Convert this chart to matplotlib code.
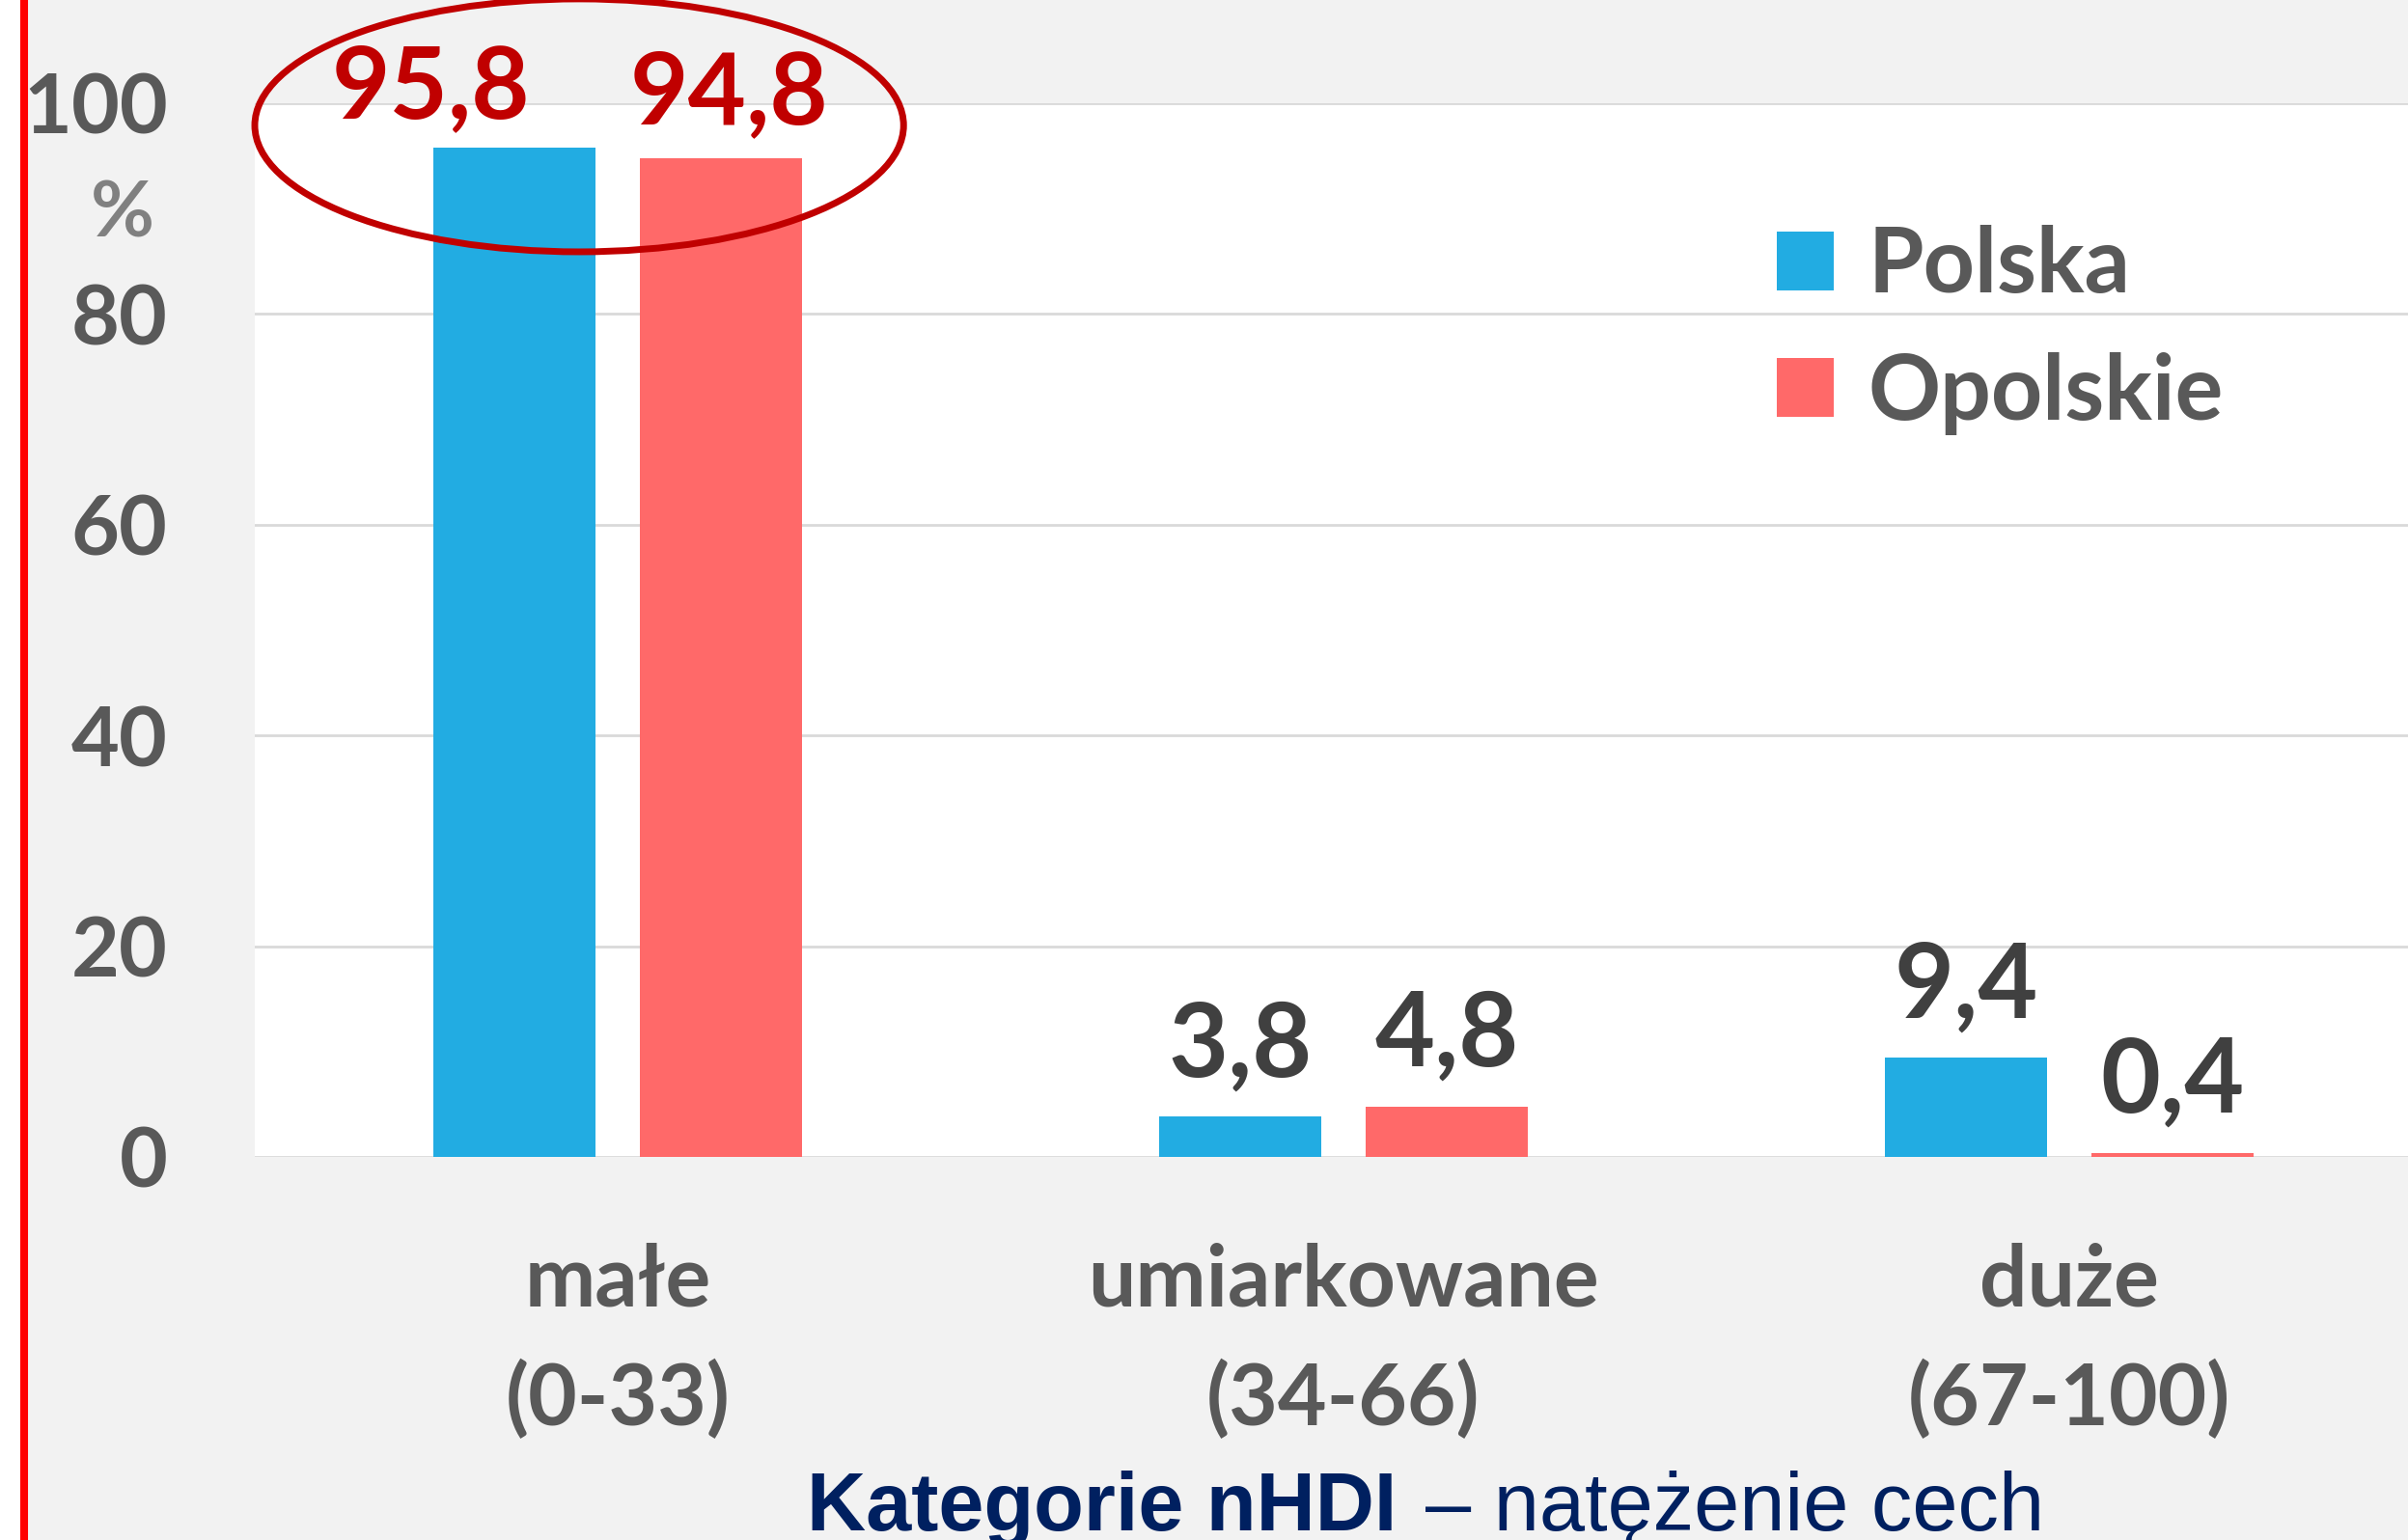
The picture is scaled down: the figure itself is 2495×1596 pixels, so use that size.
import matplotlib
matplotlib.use("Agg")
import matplotlib.pyplot as plt
from matplotlib.patches import Ellipse, Rectangle
from matplotlib.lines import Line2D
import numpy as np

plt.rcParams['font.family'] = ['Lato', 'DejaVu Sans']

categories = ['małe\n(0-33)', 'umiarkowane\n(34-66)', 'duże\n(67-100)']
polska = [95.8, 3.8, 9.4]
opolskie = [94.8, 4.8, 0.4]
series_names = ['Polska', 'Opolskie']
yticks = [0, 20, 40, 60, 80, 100]

c_pl = '#22ACE2'
c_op = '#FF6969'
tick_col = '#595959'
lab_col = '#404040'
red = '#C00000'

fig = plt.figure(figsize=(24.95, 15.96), dpi=100, facecolor='#F2F2F2')
# white strip + red vertical bar on the left edge
fig.patches.append(Rectangle((0, 0), 21 / 2495, 1, transform=fig.transFigure,
                             facecolor='white', edgecolor='none', zorder=0))
fig.lines.append(Line2D([25 / 2495, 25 / 2495], [0, 1], transform=fig.transFigure,
                        color='#FF0000', lw=5.8))

ax = fig.add_axes([264 / 2495, 0.24875, 1 - 264 / 2495, 0.68421])
ax.set_facecolor('white')

x = np.arange(len(categories))
w = 0.2234
off = 0.1423
b1 = ax.bar(x - off, polska, w, color=c_pl, label=series_names[0], zorder=3)
b2 = ax.bar(x + off, opolskie, w, color=c_op, label=series_names[1], zorder=3)

ax.set_xlim(-0.5, 2.467)
ax.set_ylim(0, 100)
ax.set_yticks(yticks)
ax.set_yticklabels([str(t) for t in yticks], fontsize=62, fontweight='bold', color=tick_col)
ax.set_xticks(x)
ax.set_xticklabels(categories, fontsize=63, fontweight='bold', color=tick_col, linespacing=1.58)
ax.tick_params(axis='y', length=0, pad=65)
ax.tick_params(axis='x', length=0, pad=64)
ax.grid(axis='y', color='#D9D9D9', lw=2.0, zorder=0)
for s in ax.spines.values():
    s.set_visible(False)

# data labels
for i, (bar, v) in enumerate(zip(b1, polska)):
    if i == 0:
        dx, dy, col, fs = -62, 22, red, 75
    else:
        dx, dy, col, fs = 0, 30, lab_col, 77
    ax.annotate(f'{v:.1f}'.replace('.', ','), (bar.get_x() + bar.get_width() / 2, v),
                xytext=(dx, dy), textcoords='offset points', ha='center', va='baseline',
                fontsize=fs, fontweight='bold', color=col, annotation_clip=False, zorder=5)
for i, (bar, v) in enumerate(zip(b2, opolskie)):
    if i == 0:
        dx, dy, col, fs = 6, 26, red, 75
    else:
        dx, dy, col, fs = 0, 30, lab_col, 77
    ax.annotate(f'{v:.1f}'.replace('.', ','), (bar.get_x() + bar.get_width() / 2, v),
                xytext=(dx, dy), textcoords='offset points', ha='center', va='baseline',
                fontsize=fs, fontweight='bold', color=col, annotation_clip=False, zorder=5)

# highlight ellipse around first group
ax.add_patch(Ellipse((-0.053, 97.9), 0.894, 24.0, fill=False, edgecolor=red, lw=5,
                     clip_on=False, zorder=6))

leg = ax.legend(loc='upper left', bbox_to_anchor=(1841 / 2495, 1 - 233 / 1596),
                bbox_transform=fig.transFigure, frameon=False, fontsize=67,
                handlelength=0.63, handleheight=0.63, handletextpad=0.39,
                labelspacing=0.49, borderpad=0, borderaxespad=0)
for t in leg.get_texts():
    t.set_color(tick_col)
    t.set_fontweight('bold')

fig.text(127 / 2495, 1 - 223 / 1596, '%', fontsize=58, fontweight='bold', color='#808080',
         ha='center', va='center')

fig.text(1447 / 2495, 1 - 1586 / 1596, 'Kategorie nHDI', family='Liberation Sans',
         fontsize=61, fontweight='bold', color='#002060', ha='right', va='baseline')
fig.text(1477 / 2495, 1 - 1586 / 1596, '– natężenie cech', family='Liberation Sans',
         fontsize=61, color='#002060', ha='left', va='baseline')

fig.savefig('out.png', dpi=100, facecolor=fig.get_facecolor())
